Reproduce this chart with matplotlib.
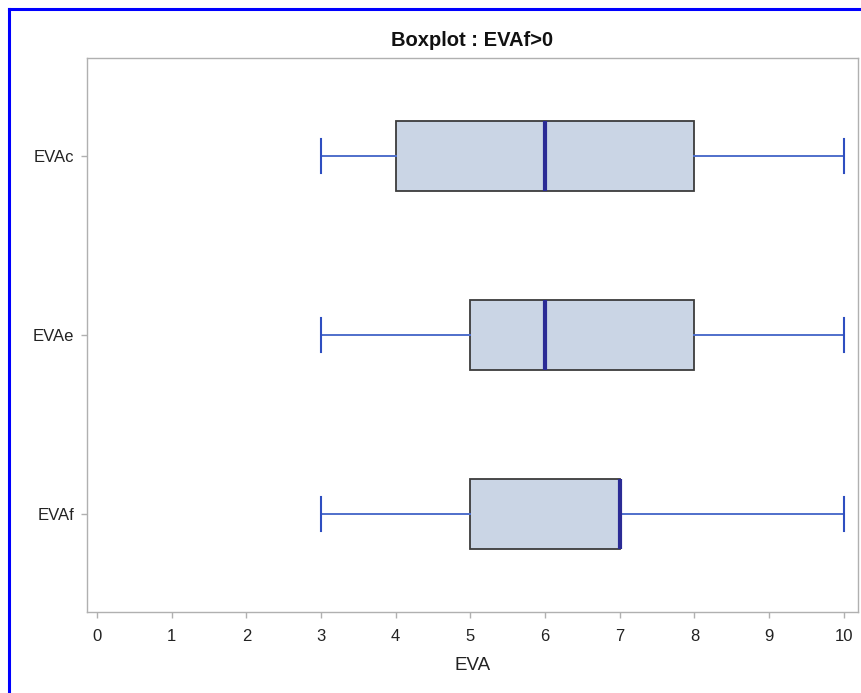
import matplotlib
matplotlib.use("Agg")
import matplotlib.pyplot as plt
from matplotlib.lines import Line2D

plt.rcParams['font.family'] = ['Liberation Sans', 'DejaVu Sans']

categories = ["EVAc", "EVAe", "EVAf"]
mins = [3, 3, 3]
q1s = [4, 5, 5]
medians = [6, 6, 7]
q3s = [8, 8, 7]
maxs = [10, 10, 10]
xticks = list(range(0, 11))

fig = plt.figure(figsize=(8.62, 6.93), dpi=100)
ax = fig.add_axes([87/862, 1 - 612/693, (858-87)/862, (612-58)/693])

stats = []
for c, lo, a, m, b, hi in zip(categories, mins, q1s, medians, q3s, maxs):
    stats.append(dict(label=c, whislo=lo, q1=a, med=m, q3=b, whishi=hi, fliers=[]))

positions = list(range(1, len(categories) + 1))
ax.bxp(stats, positions=positions, vert=False, widths=0.39, patch_artist=True,
       showfliers=False,
       boxprops=dict(facecolor="#CAD5E5", edgecolor="#3C3C3C", linewidth=1.3),
       medianprops=dict(color="#2B2B95", linewidth=3),
       whiskerprops=dict(color="#4F6FCB", linewidth=1.4),
       capprops=dict(color="#2E4EC0", linewidth=1.5),
       capwidths=0.19)

ax.set_ylim(3.55, 0.45)
ax.set_xlim(-0.134, 10.19)
ax.set_xticks(xticks)
ax.set_xticklabels([str(t) for t in xticks])
ax.set_yticks(positions)
ax.set_yticklabels(categories)

for s in ax.spines.values():
    s.set_color("#B0B0B0")
    s.set_linewidth(1.0)
ax.tick_params(axis='both', colors="#B0B0B0", length=4.5, width=1.0, labelsize=12,
               labelcolor="#222222")
ax.tick_params(axis='x', pad=8)
ax.tick_params(axis='y', pad=4.5)

ax.set_xlabel("EVA", fontsize=13.5, color="#222222", labelpad=9)
ax.set_title("Boxplot : EVAf>0", fontsize=14.5, fontweight="bold", color="#111111", pad=9)

# outer blue frame
fig.add_artist(Line2D([9/862, 9/862], [0, 1 - 8.5/693], transform=fig.transFigure,
                      color="#0000FF", linewidth=2.2, solid_capstyle="projecting"))
fig.add_artist(Line2D([9/862, 1], [1 - 8.5/693, 1 - 8.5/693], transform=fig.transFigure,
                      color="#0000FF", linewidth=2.2, solid_capstyle="projecting"))

fig.savefig("out.png", dpi=100)
